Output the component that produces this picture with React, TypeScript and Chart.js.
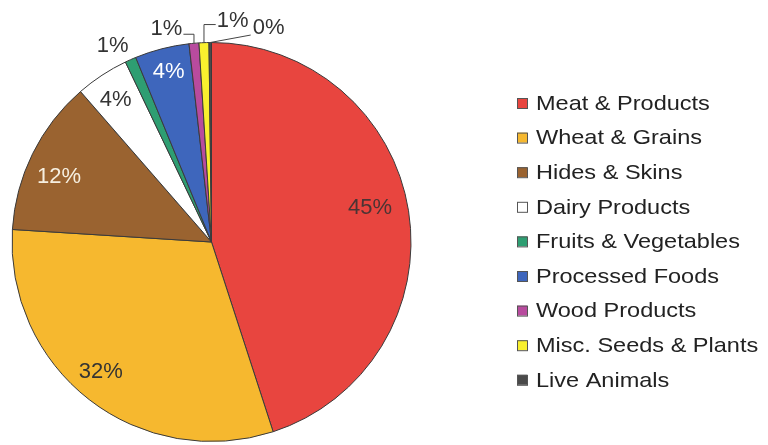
import React, { useEffect, useRef } from "react";
import { Chart, registerables } from "chart.js";

Chart.register(...registerables);

const categories = [
  "Meat & Products",
  "Wheat & Grains",
  "Hides & Skins",
  "Dairy Products",
  "Fruits & Vegetables",
  "Processed Foods",
  "Wood Products",
  "Misc. Seeds & Plants",
  "Live Animals",
];

const shares = [45.0, 31.0, 12.6, 4.3, 0.9, 4.4, 0.8, 0.8, 0.2];

const percentLabels = ["45%", "32%", "12%", "4%", "1%", "4%", "1%", "1%", "0%"];

const sliceColors = [
  "#E8453F",
  "#F6B82F",
  "#9A6330",
  "#FFFFFF",
  "#2E9E72",
  "#3E66BC",
  "#B84B9E",
  "#F9F02E",
  "#4A4A4A",
];

// label placement style: angle offset (deg) from slice middle, radius fraction, text colour, leader style
const labelStyle = [
  { da: -3.1, r: 0.813, color: "#4a3434", leader: "" },
  { da: 2.7, r: 0.855, color: "#333333", leader: "" },
  { da: -3.3, r: 0.83, color: "#f6efe0", leader: "" },
  { da: -0.8, r: 0.857, color: "#333333", leader: "" },
  { da: -2.8, r: 1.1, color: "#333333", leader: "" },
  { da: 0.2, r: 0.877, color: "#ffffff", leader: "" },
  { da: -6.9, r: 1.09, color: "#333333", leader: "right" },
  { da: 7.6, r: 1.115, color: "#333333", leader: "left" },
  { da: 15.3, r: 1.11, color: "#333333", leader: "diag" },
];

const labelPlugin = {
  id: "pieLabels",
  afterDatasetsDraw(chart: any) {
    const ctx = chart.ctx;
    const meta = chart.getDatasetMeta(0);
    ctx.save();
    ctx.font = "22px 'Liberation Sans', Arial, sans-serif";
    ctx.textAlign = "center";
    ctx.textBaseline = "middle";
    meta.data.forEach((arc: any, i: number) => {
      const st = labelStyle[i];
      const mid = (arc.startAngle + arc.endAngle) / 2;
      const a = mid + (st.da * Math.PI) / 180;
      const R = arc.outerRadius;
      const lx = arc.x + Math.cos(a) * R * st.r;
      const ly = arc.y + Math.sin(a) * R * st.r;
      const text = percentLabels[i];
      const w = ctx.measureText(text).width;
      const ax = arc.x + Math.cos(mid) * R;
      const ay = arc.y + Math.sin(mid) * R;
      ctx.strokeStyle = "#444";
      ctx.lineWidth = 1;
      if (st.leader === "right") {
        ctx.beginPath();
        ctx.moveTo(lx + w / 2 + 1, ly + 5);
        ctx.lineTo(ax, ly + 5);
        ctx.lineTo(ax, ay);
        ctx.stroke();
      } else if (st.leader === "left") {
        ctx.beginPath();
        ctx.moveTo(lx - w / 2 - 1, ly + 4);
        ctx.lineTo(ax, ly + 4);
        ctx.lineTo(ax, ay);
        ctx.stroke();
      } else if (st.leader === "diag") {
        ctx.beginPath();
        ctx.moveTo(lx - w / 2 - 2, ly + 7);
        ctx.lineTo(ax, ay);
        ctx.stroke();
      }
      ctx.fillStyle = st.color;
      ctx.fillText(text, lx, ly);
    });
    ctx.restore();
  },
};

const legendPlugin = {
  id: "sideLegend",
  afterDraw(chart: any) {
    const ctx = chart.ctx;
    const x0 = 517;
    const y0 = 103;
    const step = 34.6;
    ctx.save();
    ctx.textBaseline = "middle";
    ctx.textAlign = "left";
    categories.forEach((name, i) => {
      const y = y0 + i * step;
      ctx.fillStyle = sliceColors[i];
      ctx.fillRect(x0, y - 5, 10, 10);
      ctx.strokeStyle = "#555";
      ctx.lineWidth = 1;
      ctx.strokeRect(x0 + 0.5, y - 4.5, 10, 10);
      ctx.save();
      ctx.translate(536, y + 1);
      ctx.scale(1.12, 1);
      ctx.font = "21px 'Liberation Sans', Arial, sans-serif";
      ctx.fillStyle = "#222";
      ctx.fillText(name, 0, 0);
      ctx.restore();
    });
    ctx.restore();
  },
};

export default function App() {
  const ref = useRef<HTMLCanvasElement>(null);
  useEffect(() => {
    if (!ref.current) return;
    const chart = new Chart(ref.current, {
      type: "pie",
      data: {
        labels: categories,
        datasets: [
          {
            data: shares,
            backgroundColor: sliceColors,
            borderColor: "#3a3a3a",
            borderWidth: 1,
          },
        ],
      },
      options: {
        responsive: false,
        animation: false,
        layout: { padding: { left: 11, top: 42, right: 356, bottom: 3 } },
        plugins: {
          legend: { display: false },
          tooltip: { enabled: false },
        },
      },
      plugins: [labelPlugin, legendPlugin],
    });
    return () => chart.destroy();
  }, []);
  return (
    <div style={{ position: "fixed", left: 0, top: 0, width: 768, height: 445, background: "#fff" }}>
      <canvas ref={ref} width={768} height={445} />
    </div>
  );
}
